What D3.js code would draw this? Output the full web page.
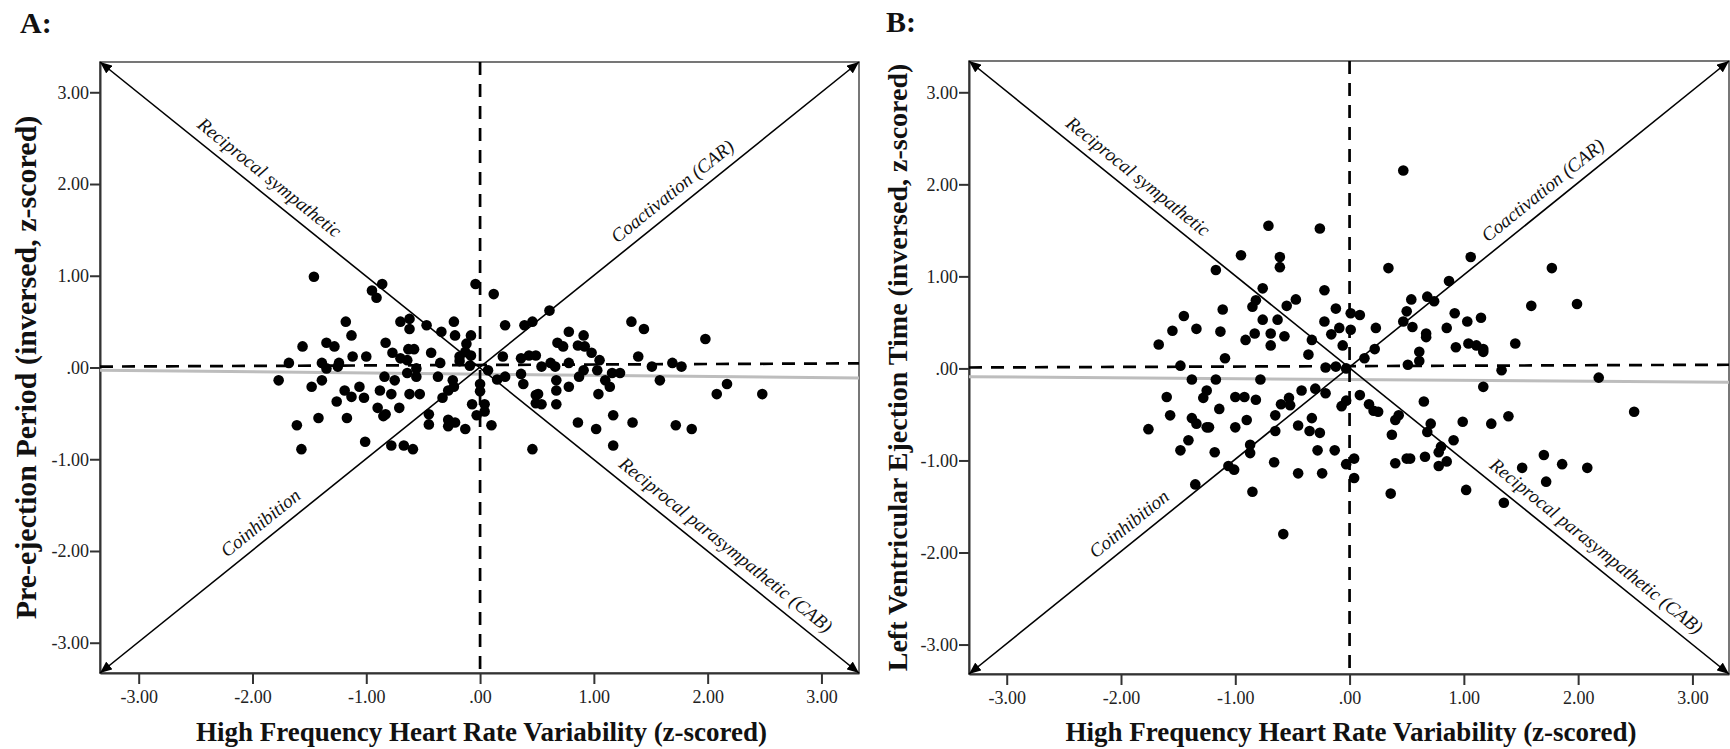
<!DOCTYPE html>
<html><head><meta charset="utf-8">
<script src="https://cdn.jsdelivr.net/npm/d3@7"></script>
<style>
body{margin:0;background:#fff}
svg{display:block}
text{font-family:"Liberation Serif","Times New Roman",Times,serif}
</style>
</head><body>
<svg id="chart" width="1730" height="749"></svg>
<script>
// ---------- data ----------
const tickValues = [-3, -2, -1, 0, 1, 2, 3];
const tickLabels = ["-3.00", "-2.00", "-1.00", ".00", "1.00", "2.00", "3.00"];
const panelLabels = ["A:", "B:"];
const xTitle = "High Frequency Heart Rate Variability (z-scored)";
const yTitles = ["Pre-ejection Period (inversed, z-scored)", "Left Ventricular Ejection Time (inversed, z-scored)"];
const diagonalLabels = ["Reciprocal sympathetic", "Coactivation (CAR)", "Coinhibition", "Reciprocal parasympathetic (CAB)"];
const diagonalLabelAt = [-1.94, 1.78, -1.84, 2.07]; // x-value along each diagonal

// Panel A: HF-HRV (x) vs PEP inversed (y)
const pointsA = [
 [-1.46,0.99],[-0.86,0.91],[-0.95,0.84],[-0.91,0.76],[-0.04,0.91],[0.12,0.80],
 [-1.18,0.50],[-1.13,0.35],[-1.56,0.23],[-1.35,0.27],[-1.28,0.23],[-1.68,0.05],
 [-1.39,0.05],[-1.35,-0.01],[-1.24,0.05],[-1.25,0.01],[-1.77,-0.14],[-1.39,-0.14],
 [-1.48,-0.21],[-1.12,0.12],[-1.00,0.12],[-0.83,0.27],[-0.77,0.16],[-0.70,0.50],
 [-0.62,0.53],[-0.62,0.42],[-0.47,0.46],[-0.34,0.39],[-0.23,0.50],[-0.22,0.35],
 [-0.08,0.35],[-0.12,0.26],[-0.13,0.17],[-0.18,0.12],[-0.08,0.13],[-0.18,0.07],
 [-0.09,0.02],[-0.63,0.20],[-0.58,0.20],[-0.70,0.10],[-0.64,0.08],[-0.64,-0.06],
 [-0.56,-0.01],[-0.43,0.16],[-0.35,0.05],[-0.84,-0.10],[-0.75,-0.14],[-0.56,-0.10],
 [-0.37,-0.10],[-0.24,-0.14],[-0.23,-0.21],[-0.28,-0.25],[-0.33,-0.33],[0.00,-0.18],
 [0.00,-0.26],[-0.07,-0.40],[0.04,-0.40],[-0.03,-0.52],[0.04,-0.48],[0.10,-0.63],
 [-1.19,-0.25],[-1.13,-0.32],[-1.06,-0.21],[-1.26,-0.37],[-1.02,-0.33],[-0.88,-0.25],
 [-0.78,-0.29],[-0.62,-0.29],[-0.53,-0.29],[-0.71,-0.44],[-0.90,-0.44],[-0.85,-0.53],
 [-0.83,-0.51],[-1.42,-0.55],[-1.17,-0.55],[-1.61,-0.63],[-1.57,-0.89],[-1.01,-0.81],
 [-0.78,-0.85],[-0.67,-0.85],[-0.59,-0.89],[-0.45,-0.51],[-0.45,-0.62],[-0.28,-0.57],
 [-0.28,-0.64],[-0.22,-0.60],[-0.13,-0.67],[0.46,-0.89],[0.22,0.46],[0.39,0.46],
 [0.46,0.50],[0.20,0.12],[0.36,0.10],[0.43,0.13],[0.49,0.13],[0.07,-0.03],
 [0.15,-0.13],[0.22,-0.10],[0.36,-0.07],[0.38,-0.18],[0.49,-0.30],[0.49,-0.39],
 [0.61,0.62],[1.33,0.50],[1.44,0.42],[1.98,0.31],[0.78,0.39],[0.91,0.35],
 [0.68,0.27],[0.73,0.23],[0.86,0.24],[0.92,0.23],[0.98,0.16],[1.05,0.08],
 [0.54,0.01],[0.62,0.05],[0.66,0.01],[0.78,0.05],[0.91,-0.03],[1.03,-0.03],
 [1.39,0.12],[1.51,0.01],[1.69,0.05],[1.77,0.01],[0.67,-0.14],[0.67,-0.25],
 [0.78,-0.21],[0.87,-0.10],[1.10,-0.14],[1.14,-0.21],[1.16,-0.06],[1.23,-0.06],
 [1.04,-0.29],[1.58,-0.14],[0.51,-0.29],[0.54,-0.40],[0.67,-0.40],[2.08,-0.29],
 [2.17,-0.18],[2.48,-0.29],[0.86,-0.60],[1.02,-0.67],[1.17,-0.52],[1.34,-0.60],
 [1.17,-0.85],[1.72,-0.63],[1.86,-0.67]
];

// Panel B: HF-HRV (x) vs LVET inversed (y)
const pointsB = [
 [-0.71,1.55],[-0.26,1.52],[-0.95,1.23],[-0.61,1.21],[-0.61,1.10],[-1.17,1.07],
 [-0.76,0.87],[-0.82,0.74],[-0.85,0.67],[-0.47,0.75],[-0.55,0.68],[-0.22,0.85],
 [-1.45,0.57],[-1.11,0.64],[-1.55,0.41],[-1.34,0.43],[-1.13,0.40],[-1.67,0.26],
 [-0.76,0.53],[-0.63,0.53],[-0.91,0.31],[-0.83,0.38],[-0.69,0.38],[-0.57,0.35],
 [-0.69,0.25],[-0.33,0.31],[-0.36,0.15],[-0.22,0.51],[-0.12,0.65],[-0.16,0.37],
 [-0.09,0.44],[-0.06,0.25],[0.01,0.60],[0.01,0.42],[-0.21,0.01],[-0.12,0.02],
 [-1.48,0.03],[-1.09,0.11],[-1.38,-0.12],[-1.17,-0.12],[-0.78,-0.12],[-1.60,-0.31],
 [-1.25,-0.24],[-1.28,-0.32],[-1.00,-0.31],[-0.92,-0.31],[-0.82,-0.34],[-1.14,-0.44],
 [-1.57,-0.51],[-1.38,-0.54],[-1.34,-0.60],[-1.25,-0.64],[-1.23,-0.64],[-1.76,-0.66],
 [-1.00,-0.64],[-0.90,-0.56],[-1.41,-0.78],[-1.48,-0.89],[-1.18,-0.91],[-0.87,-0.83],
 [-0.87,-0.92],[-1.06,-1.06],[-1.01,-1.10],[-1.35,-1.26],[-0.85,-1.34],[-0.66,-1.02],
 [-0.58,-1.80],[-0.65,-0.51],[-0.65,-0.68],[-0.60,-0.39],[-0.52,-0.40],[-0.53,-0.32],
 [-0.42,-0.24],[-0.30,-0.22],[-0.21,-0.27],[-0.45,-0.62],[-0.33,-0.54],[-0.35,-0.68],
 [-0.26,-0.70],[-0.28,-0.89],[-0.13,-0.89],[-0.45,-1.14],[-0.24,-1.14],[-0.03,-1.04],
 [0.04,-1.19],[-0.07,-0.41],[-0.03,-0.35],[0.09,-0.29],
 [0.47,2.15],[0.34,1.09],[1.06,1.21],[1.77,1.09],[0.87,0.95],[0.54,0.75],[0.68,0.78],
 [0.74,0.73],[1.59,0.68],[1.99,0.70],[0.09,0.58],[0.50,0.62],[0.47,0.51],[0.55,0.45],
 [0.23,0.44],[0.22,0.21],[0.13,0.11],[0.67,0.38],[0.67,0.34],[0.61,0.18],[0.61,0.08],
 [0.51,0.04],[0.92,0.60],[0.85,0.44],[1.03,0.51],[1.15,0.55],[0.93,0.23],[1.04,0.27],
 [1.11,0.25],[1.17,0.21],[1.17,0.18],[1.45,0.27],[1.33,-0.02],[2.18,-0.10],[2.49,-0.47],
 [1.17,-0.20],[0.17,-0.39],[0.21,-0.46],[0.25,-0.47],[0.65,-0.36],[0.43,-0.51],[0.40,-0.56],
 [0.37,-0.72],[0.71,-0.60],[0.68,-0.69],[0.99,-0.58],[1.24,-0.60],[1.39,-0.52],[0.91,-0.78],
 [0.80,-0.85],[0.78,-0.91],[0.78,-1.06],[0.85,-1.01],[0.66,-0.96],[0.50,-0.98],[0.53,-0.98],
 [0.40,-1.03],[0.04,-0.98],[0.36,-1.36],[1.02,-1.32],[1.35,-1.46],[1.51,-1.08],[1.70,-0.94],
 [1.72,-1.23],[1.86,-1.04],[2.08,-1.08],[-0.03,0.00]
];

// fit lines (grey) and horizontal reference (dashed) as [x,y] endpoints
const fitA = [[-3.34,-0.03],[3.33,-0.115]];
const fitB = [[-3.33,-0.09],[3.32,-0.15]];
const refA = [[-3.34,0.01],[3.33,0.045]];
const refB = [[-3.33,0.01],[3.32,0.04]];

// ---------- layout ----------
const panels = [
  {pts: pointsA, fit: fitA, ref: refA, yTitle: yTitles[0], label: panelLabels[0],
   box: {l:100, r:859, t:62, b:673}, xDom:[-3.34,3.33], yDom:[-3.33,3.33],
   labelPos:[20,33], yTitleX:36, yTitleSize:30},
  {pts: pointsB, fit: fitB, ref: refB, yTitle: yTitles[1], label: panelLabels[1],
   box: {l:969, r:1729, t:61, b:674}, xDom:[-3.33,3.32], yDom:[-3.32,3.34],
   labelPos:[886,32], yTitleX:907, yTitleSize:28}
];

const svg = d3.select("#chart");
const defs = svg.append("defs");
defs.append("marker")
  .attr("id","arrow").attr("viewBox","0 0 12 10")
  .attr("refX",12).attr("refY",5)
  .attr("markerWidth",12).attr("markerHeight",10)
  .attr("markerUnits","userSpaceOnUse")
  .attr("orient","auto-start-reverse")
  .append("path").attr("d","M0,0 L12,5 L0,10 Z").attr("fill","#000");

panels.forEach(p => {
  const x = d3.scaleLinear().domain(p.xDom).range([p.box.l, p.box.r]);
  const y = d3.scaleLinear().domain(p.yDom).range([p.box.b, p.box.t]);
  const g = svg.append("g");

  // frame
  g.append("rect")
    .attr("x", p.box.l).attr("y", p.box.t)
    .attr("width", p.box.r - p.box.l).attr("height", p.box.b - p.box.t)
    .attr("fill","none").attr("stroke","#555").attr("stroke-width",1.6);

  // axes
  const xAxis = d3.axisBottom(x).tickValues(tickValues)
    .tickFormat((d,i) => tickLabels[i]).tickSize(11).tickSizeOuter(0).tickPadding(6);
  const yAxis = d3.axisLeft(y).tickValues(tickValues)
    .tickFormat((d,i) => tickLabels[i]).tickSize(10).tickSizeOuter(0).tickPadding(1);
  const gx = g.append("g").attr("transform", `translate(0,${p.box.b})`).call(xAxis);
  const gy = g.append("g").attr("transform", `translate(${p.box.l},0)`).call(yAxis);
  [gx, gy].forEach(a => {
    a.select(".domain").attr("stroke","#333").attr("stroke-width",2);
    a.selectAll(".tick line").attr("stroke","#333").attr("stroke-width",2);
    a.selectAll(".tick text").attr("font-size",18).attr("fill","#222")
      .attr("font-family",'"Liberation Serif","Times New Roman",serif');
  });

  const line = d3.line().x(d => x(d[0])).y(d => y(d[1]));

  // grey fit line
  g.append("path").attr("d", line(p.fit))
    .attr("stroke","#bdbdbd").attr("stroke-width",3).attr("fill","none");

  // dashed reference lines
  g.append("path").attr("d", line(p.ref))
    .attr("stroke","#000").attr("stroke-width",2.7).attr("stroke-dasharray","13,9").attr("fill","none");
  g.append("path").attr("d", line([[0, p.yDom[1]],[0, p.yDom[0]]]))
    .attr("stroke","#000").attr("stroke-width",2.7).attr("stroke-dasharray","13,9").attr("fill","none");

  // diagonals (corner to corner) with arrowheads
  const diagonals = [
    [[p.xDom[0], p.yDom[1]], [p.xDom[1], p.yDom[0]]], // TL -> BR
    [[p.xDom[0], p.yDom[0]], [p.xDom[1], p.yDom[1]]]  // BL -> TR
  ];
  diagonals.forEach(dg => {
    g.append("path").attr("d", line(dg))
      .attr("stroke","#000").attr("stroke-width",1.6).attr("fill","none")
      .attr("marker-start","url(#arrow)").attr("marker-end","url(#arrow)");
  });

  // diagonal labels
  const labelDiag = [0, 1, 1, 0];
  diagonalLabels.forEach((txt, i) => {
    const dg = diagonals[labelDiag[i]];
    const x0 = x(dg[0][0]), y0 = y(dg[0][1]), x1 = x(dg[1][0]), y1 = y(dg[1][1]);
    const px = x(diagonalLabelAt[i]);
    const py = y0 + (px - x0) * (y1 - y0) / (x1 - x0);
    const ang = Math.atan2(y1 - y0, x1 - x0) * 180 / Math.PI;
    g.append("text")
      .attr("transform", `translate(${px},${py}) rotate(${ang})`)
      .attr("dy", -10).attr("text-anchor","middle")
      .attr("font-size",19).attr("font-style","italic").attr("fill","#111")
      .text(txt);
  });

  // points
  g.append("g").selectAll("circle").data(p.pts).join("circle")
    .attr("cx", d => x(d[0])).attr("cy", d => y(d[1])).attr("r", 5.3).attr("fill","#000");

  // titles
  g.append("text").attr("x", (p.box.l + p.box.r) / 2 + 2).attr("y", 741)
    .attr("text-anchor","middle").attr("font-size",27).attr("font-weight","bold").attr("fill","#111")
    .text(xTitle);
  g.append("text")
    .attr("transform", `translate(${p.yTitleX},${(p.box.t + p.box.b) / 2}) rotate(-90)`)
    .attr("text-anchor","middle").attr("font-size",p.yTitleSize).attr("font-weight","bold").attr("fill","#111")
    .text(p.yTitle);
  g.append("text").attr("x", p.labelPos[0]).attr("y", p.labelPos[1])
    .attr("font-size",30).attr("font-weight","bold").attr("fill","#111")
    .text(p.label);
});
</script>
</body></html>
